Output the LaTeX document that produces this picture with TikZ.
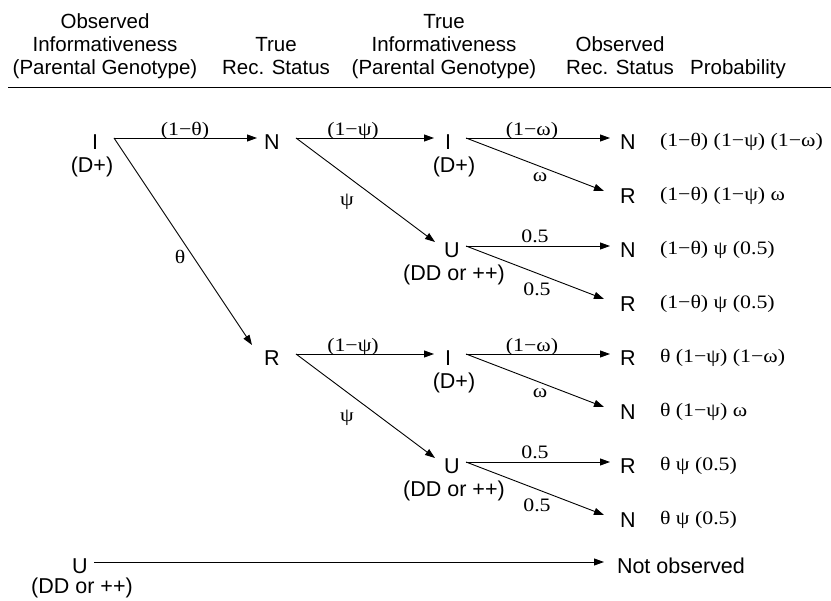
\documentclass[tikz,border=0pt]{standalone}
\usepackage{fontspec}
\setmainfont{Liberation Sans}
\newfontfamily\grfont[FakeStretch=1.15]{Liberation Serif}
\usetikzlibrary{arrows.meta,calc}
\begin{document}
\begin{tikzpicture}[x=1pt,y=-1pt,
  every node/.style={inner sep=0pt,outer sep=0pt},
  hd/.style={font=\fontsize{20.5}{24}\selectfont,anchor=base},
  st/.style={font=\fontsize{21.5}{24}\selectfont},
  pr/.style={font=\grfont\fontsize{19}{22}\selectfont,anchor=west},
  lb/.style={font=\grfont\fontsize{19}{22}\selectfont},
  lbt/.style={lb,anchor=base},
  ln/.style={line width=0.9pt},
  arr/.style={line width=0.9pt,-{Triangle[length=10pt,width=7pt]}}]
\useasboundingbox (0,0) rectangle (831,601);

% header
\node[hd] (h1a) at (105,29) {Observed};
\node[hd] (h1b) at (105,52) {Informativeness};
\node[hd] (h1c) at (105,75) {(Parental Genotype)};
\node[hd] (h2a) at (276,52) {True};
\node[hd] (h2b) at (276,75) {Rec. Status};
\node[hd] (h3a) at (444,29) {True};
\node[hd] (h3b) at (444,52) {Informativeness};
\node[hd] (h3c) at (444,75) {(Parental Genotype)};
\node[hd] (h4a) at (620,52) {Observed};
\node[hd] (h4b) at (620,75) {Rec. Status};
\node[hd] (h5) at (738,75) {Probability};
\draw[ln] (8,87) -- (831,87);

% level 1
\node[st] (I1) at (95,142) {I};
\node[st] (I1s) at (92,167) {(D+)};
\node[st] (U3) at (80,566) {U};
\node[st] (U3s) at (82,588) {(DD or ++)};

% level 2
\node[st] (N1) at (272,142) {N};
\node[st] (R1) at (272,358) {R};

% level 3
\node[st] (I2) at (448,142) {I};
\node[st] (I2s) at (454,167) {(D+)};
\node[st] (U1) at (452,250) {U};
\node[st] (U1s) at (454,275) {(DD or ++)};
\node[st] (I3) at (448,358) {I};
\node[st] (I3s) at (454,383) {(D+)};
\node[st] (U2) at (452,466) {U};
\node[st] (U2s) at (454,491) {(DD or ++)};

% level 4
\node[st] (o1) at (628,142) {N};
\node[st] (o2) at (628,196) {R};
\node[st] (o3) at (628,250) {N};
\node[st] (o4) at (628,304) {R};
\node[st] (o5) at (628,358) {R};
\node[st] (o6) at (628,412) {N};
\node[st] (o7) at (628,466) {R};
\node[st] (o8) at (628,520) {N};
\node[st,anchor=west] (o9) at (617,566) {Not observed};

% probabilities
\node[pr] (p1) at (660,142) {(1−θ) (1−ψ) (1−ω)};
\node[pr] (p2) at (660,196) {(1−θ) (1−ψ) ω};
\node[pr] (p3) at (660,250) {(1−θ) ψ (0.5)};
\node[pr] (p4) at (660,304) {(1−θ) ψ (0.5)};
\node[pr] (p5) at (660,358) {θ (1−ψ) (1−ω)};
\node[pr] (p6) at (660,412) {θ (1−ψ) ω};
\node[pr] (p7) at (660,466) {θ ψ (0.5)};
\node[pr] (p8) at (660,520) {θ ψ (0.5)};

% fork points
\coordinate (I1f) at ($(I1)+(19,-4)$);
\coordinate (N1f) at ($(N1)+(24,-4)$);
\coordinate (R1f) at ($(R1)+(24,-4)$);
\coordinate (I2f) at ($(I2)+(18,-4)$);
\coordinate (I3f) at ($(I3)+(18,-4)$);
\coordinate (U1f) at ($(U1)+(14,-4)$);
\coordinate (U2f) at ($(U2)+(14,-4)$);
\coordinate (U3f) at ($(U3)+(14,-4)$);

% connectors
\draw[arr] (I1f) -- ($(N1)+(-15,-4)$);
\draw[arr] (I1f) -- ($(R1)+(-20,-13)$);
\draw[arr] (N1f) -- ($(I2)+(-14,-4)$);
\draw[arr] (N1f) -- ($(U1)+(-17,-8)$);
\draw[arr] (R1f) -- ($(I3)+(-14,-4)$);
\draw[arr] (R1f) -- ($(U2)+(-17,-8)$);
\draw[arr] (I2f) -- ($(o1)+(-18,-4)$);
\draw[arr] (I2f) -- ($(o2)+(-24,-5)$);
\draw[arr] (U1f) -- ($(o3)+(-18,-4)$);
\draw[arr] (U1f) -- ($(o4)+(-24,-5)$);
\draw[arr] (I3f) -- ($(o5)+(-18,-4)$);
\draw[arr] (I3f) -- ($(o6)+(-24,-5)$);
\draw[arr] (U2f) -- ($(o7)+(-18,-4)$);
\draw[arr] (U2f) -- ($(o8)+(-24,-5)$);
\draw[arr] (U3f) -- ($(o9.west)+(-13,-4)$);

% branch labels
\node[lbt] (l1) at (185,136) {(1−θ)};
\node[lb] (l2) at (180,257) {θ};
\node[lbt] (l3) at (353,136) {(1−ψ)};
\node[lb] (l4) at (347,202) {ψ};
\node[lbt] (l5) at (353,352) {(1−ψ)};
\node[lb] (l6) at (347,418) {ψ};
\node[lbt] (l7) at (532,136) {(1−ω)};
\node[lb] (l8) at (540,177) {ω};
\node[lbt] (l9) at (535,243) {0.5};
\node[lb] (l10) at (537,289) {0.5};
\node[lbt] (l11) at (532,352) {(1−ω)};
\node[lb] (l12) at (540,393) {ω};
\node[lbt] (l13) at (535,459) {0.5};
\node[lb] (l14) at (537,505) {0.5};
\end{tikzpicture}
\end{document}
